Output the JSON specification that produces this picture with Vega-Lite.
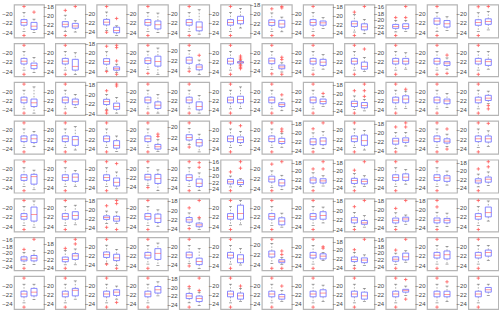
{
"$schema": "https://vega.github.io/schema/vega-lite/v6.json",
"background": "white",
"padding": {"left": 1, "top": 0.5, "right": 0, "bottom": 0},
"bounds": "flush",
"spacing": {"row": 5.8, "column": 11.3},
"data": {"values": [
{"r":1,"c":1,"g":1,"lo":-23.8,"q1":-22.5,"m":-21.9,"q3":-21.3,"hi":-19.8,"o":[-18.5,-24.7]},
{"r":1,"c":1,"g":2,"lo":-24.1,"q1":-23.4,"m":-22.7,"q3":-21.9,"hi":-21.2,"o":[-19.7]},
{"r":1,"c":2,"g":1,"lo":-23.7,"q1":-22.6,"m":-22.0,"q3":-21.4,"hi":-19.9,"o":[-18.8,-24.6]},
{"r":1,"c":2,"g":2,"lo":-23.8,"q1":-22.9,"m":-22.4,"q3":-21.8,"hi":-21.2,"o":[-17.9]},
{"r":1,"c":3,"g":1,"lo":-23.7,"q1":-22.5,"m":-21.9,"q3":-21.3,"hi":-19.7,"o":[-18.5,-24.1]},
{"r":1,"c":3,"g":2,"lo":-24.8,"q1":-24.2,"m":-23.7,"q3":-23.0,"hi":-22.7,"o":[-21.1]},
{"r":1,"c":4,"g":1,"lo":-23.8,"q1":-22.5,"m":-21.9,"q3":-21.3,"hi":-19.8,"o":[-18.5,-24.7]},
{"r":1,"c":4,"g":2,"lo":-24.1,"q1":-23.3,"m":-22.4,"q3":-21.6,"hi":-19.9,"o":[]},
{"r":1,"c":5,"g":1,"lo":-23.8,"q1":-22.5,"m":-21.9,"q3":-21.3,"hi":-19.8,"o":[-18.5,-24.7]},
{"r":1,"c":5,"g":2,"lo":-24.4,"q1":-23.7,"m":-22.9,"q3":-21.8,"hi":-19.2,"o":[]},
{"r":1,"c":6,"g":1,"lo":-23.8,"q1":-22.5,"m":-21.9,"q3":-21.3,"hi":-19.8,"o":[-18.5,-24.7]},
{"r":1,"c":6,"g":2,"lo":-23.1,"q1":-22.2,"m":-21.5,"q3":-20.6,"hi":-18.9,"o":[]},
{"r":1,"c":7,"g":1,"lo":-23.8,"q1":-22.5,"m":-21.9,"q3":-21.3,"hi":-19.8,"o":[-18.9,-24.7]},
{"r":1,"c":7,"g":2,"lo":-23.9,"q1":-22.9,"m":-22.2,"q3":-21.4,"hi":-20.7,"o":[-18.4,-18.7]},
{"r":1,"c":8,"g":1,"lo":-23.8,"q1":-22.5,"m":-21.9,"q3":-21.3,"hi":-19.8,"o":[-18.5,-24.7]},
{"r":1,"c":8,"g":2,"lo":-23.2,"q1":-22.5,"m":-22.0,"q3":-21.6,"hi":-20.9,"o":[]},
{"r":1,"c":9,"g":1,"lo":-23.8,"q1":-22.5,"m":-21.9,"q3":-21.3,"hi":-19.8,"o":[-19.2,-24.6]},
{"r":1,"c":9,"g":2,"lo":-24.2,"q1":-23.3,"m":-22.6,"q3":-21.9,"hi":-20.9,"o":[-17.9]},
{"r":1,"c":10,"g":1,"lo":-23.8,"q1":-22.7,"m":-22.1,"q3":-21.5,"hi":-20.3,"o":[-19.4,-24.9]},
{"r":1,"c":10,"g":2,"lo":-23.7,"q1":-22.8,"m":-22.1,"q3":-21.3,"hi":-20.3,"o":[-19.4,-16.0]},
{"r":1,"c":11,"g":1,"lo":-23.8,"q1":-22.3,"m":-21.6,"q3":-21.0,"hi":-19.8,"o":[-18.5,-24.7]},
{"r":1,"c":11,"g":2,"lo":-23.6,"q1":-22.9,"m":-22.2,"q3":-21.5,"hi":-20.7,"o":[]},
{"r":1,"c":12,"g":1,"lo":-23.8,"q1":-22.5,"m":-21.9,"q3":-21.3,"hi":-19.8,"o":[-18.5,-24.7]},
{"r":1,"c":12,"g":2,"lo":-23.5,"q1":-22.3,"m":-21.7,"q3":-21.1,"hi":-19.5,"o":[-18.45]},

{"r":2,"c":1,"g":1,"lo":-23.8,"q1":-22.5,"m":-21.9,"q3":-21.3,"hi":-19.8,"o":[-18.5,-24.7]},
{"r":2,"c":1,"g":2,"lo":-24.3,"q1":-23.5,"m":-22.8,"q3":-22.3,"hi":-21.1,"o":[]},
{"r":2,"c":2,"g":1,"lo":-23.8,"q1":-22.5,"m":-21.9,"q3":-21.3,"hi":-19.8,"o":[-18.5,-24.7]},
{"r":2,"c":2,"g":2,"lo":-24.7,"q1":-23.8,"m":-23.0,"q3":-21.5,"hi":-20.1,"o":[]},
{"r":2,"c":3,"g":1,"lo":-23.8,"q1":-22.5,"m":-21.9,"q3":-21.3,"hi":-19.8,"o":[-18.6,-24.1]},
{"r":2,"c":3,"g":2,"lo":-24.3,"q1":-23.8,"m":-23.5,"q3":-23.1,"hi":-22.5,"o":[-18.4,-18.9,-21.8,-24.7]},
{"r":2,"c":4,"g":1,"lo":-23.8,"q1":-22.5,"m":-21.9,"q3":-21.3,"hi":-19.8,"o":[-18.5,-24.7]},
{"r":2,"c":4,"g":2,"lo":-24.9,"q1":-23.1,"m":-22.1,"q3":-20.9,"hi":-19.1,"o":[]},
{"r":2,"c":5,"g":1,"lo":-23.7,"q1":-22.6,"m":-21.95,"q3":-21.4,"hi":-20.0,"o":[-19.0,-24.2]},
{"r":2,"c":5,"g":2,"lo":-24.8,"q1":-23.9,"m":-23.35,"q3":-22.9,"hi":-21.95,"o":[-21.0]},
{"r":2,"c":6,"g":1,"lo":-23.8,"q1":-22.5,"m":-21.9,"q3":-21.3,"hi":-19.8,"o":[-18.5,-24.7]},
{"r":2,"c":6,"g":2,"lo":-22.5,"q1":-22.3,"m":-22.1,"q3":-22.0,"hi":-21.8,"o":[-20.8,-21.2,-21.5,-22.7,-22.9,-23.2,-23.5]},
{"r":2,"c":7,"g":1,"lo":-23.8,"q1":-22.5,"m":-21.9,"q3":-21.3,"hi":-19.8,"o":[-18.5,-24.7]},
{"r":2,"c":7,"g":2,"lo":-24.3,"q1":-23.6,"m":-23.2,"q3":-22.8,"hi":-22.3,"o":[-21.1,-21.6,-24.8]},
{"r":2,"c":8,"g":1,"lo":-23.8,"q1":-22.5,"m":-21.9,"q3":-21.3,"hi":-19.8,"o":[-18.5,-24.7]},
{"r":2,"c":8,"g":2,"lo":-23.6,"q1":-22.8,"m":-22.1,"q3":-21.5,"hi":-20.5,"o":[]},
{"r":2,"c":9,"g":1,"lo":-23.8,"q1":-22.5,"m":-21.9,"q3":-21.3,"hi":-19.8,"o":[-18.5,-24.7]},
{"r":2,"c":9,"g":2,"lo":-24.1,"q1":-23.6,"m":-23.0,"q3":-22.1,"hi":-21.1,"o":[-19.3]},
{"r":2,"c":10,"g":1,"lo":-23.8,"q1":-22.5,"m":-21.9,"q3":-21.3,"hi":-19.8,"o":[-18.5,-24.7]},
{"r":2,"c":10,"g":2,"lo":-23.6,"q1":-22.5,"m":-21.9,"q3":-21.3,"hi":-20.1,"o":[]},
{"r":2,"c":11,"g":1,"lo":-23.8,"q1":-22.5,"m":-21.9,"q3":-21.3,"hi":-19.8,"o":[-18.5,-24.7]},
{"r":2,"c":11,"g":2,"lo":-23.6,"q1":-22.8,"m":-22.3,"q3":-22.0,"hi":-21.2,"o":[-20.6,-24.5]},
{"r":2,"c":12,"g":1,"lo":-23.8,"q1":-22.5,"m":-21.9,"q3":-21.3,"hi":-19.8,"o":[-18.5,-24.7]},
{"r":2,"c":12,"g":2,"lo":-23.6,"q1":-22.8,"m":-22.0,"q3":-21.5,"hi":-19.8,"o":[]},

{"r":3,"c":1,"g":1,"lo":-23.8,"q1":-22.5,"m":-21.9,"q3":-21.3,"hi":-19.8,"o":[-18.5,-24.7]},
{"r":3,"c":1,"g":2,"lo":-24.7,"q1":-23.3,"m":-22.5,"q3":-21.7,"hi":-19.1,"o":[]},
{"r":3,"c":2,"g":1,"lo":-23.8,"q1":-22.5,"m":-21.9,"q3":-21.3,"hi":-19.8,"o":[-18.5,-24.7]},
{"r":3,"c":2,"g":2,"lo":-23.5,"q1":-22.9,"m":-22.3,"q3":-21.7,"hi":-20.7,"o":[]},
{"r":3,"c":3,"g":1,"lo":-23.3,"q1":-22.2,"m":-21.6,"q3":-21.1,"hi":-20.1,"o":[-19.3,-23.5,-24.0]},
{"r":3,"c":3,"g":2,"lo":-24.0,"q1":-23.2,"m":-22.6,"q3":-21.9,"hi":-20.7,"o":[-17.9,-18.3]},
{"r":3,"c":4,"g":1,"lo":-23.8,"q1":-22.5,"m":-21.9,"q3":-21.3,"hi":-19.8,"o":[-18.5,-24.7]},
{"r":3,"c":4,"g":2,"lo":-24.7,"q1":-23.7,"m":-23.0,"q3":-22.3,"hi":-20.7,"o":[]},
{"r":3,"c":5,"g":1,"lo":-23.8,"q1":-22.5,"m":-21.9,"q3":-21.3,"hi":-19.8,"o":[-18.5,-24.7]},
{"r":3,"c":5,"g":2,"lo":-24.7,"q1":-24.0,"m":-23.3,"q3":-22.3,"hi":-20.9,"o":[]},
{"r":3,"c":6,"g":1,"lo":-23.8,"q1":-22.5,"m":-21.9,"q3":-21.3,"hi":-19.8,"o":[-18.5,-24.7]},
{"r":3,"c":6,"g":2,"lo":-23.7,"q1":-22.5,"m":-21.8,"q3":-21.1,"hi":-19.1,"o":[]},
{"r":3,"c":7,"g":1,"lo":-23.8,"q1":-22.5,"m":-21.9,"q3":-21.3,"hi":-19.8,"o":[-18.5,-24.7]},
{"r":3,"c":7,"g":2,"lo":-24.2,"q1":-23.3,"m":-22.9,"q3":-22.5,"hi":-21.7,"o":[-20.8]},
{"r":3,"c":8,"g":1,"lo":-23.8,"q1":-22.5,"m":-21.9,"q3":-21.3,"hi":-19.8,"o":[-18.5,-24.7]},
{"r":3,"c":8,"g":2,"lo":-23.3,"q1":-22.7,"m":-22.2,"q3":-21.7,"hi":-21.1,"o":[-20.5]},
{"r":3,"c":9,"g":1,"lo":-23.7,"q1":-23.0,"m":-22.3,"q3":-21.8,"hi":-20.6,"o":[-19.4,-24.5]},
{"r":3,"c":9,"g":2,"lo":-24.0,"q1":-23.3,"m":-22.8,"q3":-22.1,"hi":-21.4,"o":[-17.9,-19.4,-20.7]},
{"r":3,"c":10,"g":1,"lo":-23.8,"q1":-22.5,"m":-21.9,"q3":-21.3,"hi":-19.8,"o":[-18.5,-24.7]},
{"r":3,"c":10,"g":2,"lo":-23.7,"q1":-22.5,"m":-21.7,"q3":-21.0,"hi":-20.0,"o":[-19.6]},
{"r":3,"c":11,"g":1,"lo":-23.8,"q1":-22.5,"m":-21.9,"q3":-21.3,"hi":-19.8,"o":[-18.5,-24.7]},
{"r":3,"c":11,"g":2,"lo":-23.5,"q1":-22.7,"m":-22.1,"q3":-21.7,"hi":-20.5,"o":[]},
{"r":3,"c":12,"g":1,"lo":-23.8,"q1":-22.5,"m":-21.9,"q3":-21.3,"hi":-19.8,"o":[-18.5,-24.7]},
{"r":3,"c":12,"g":2,"lo":-22.7,"q1":-22.0,"m":-21.5,"q3":-20.9,"hi":-20.0,"o":[-23.1,-23.8]},

{"r":4,"c":1,"g":1,"lo":-23.8,"q1":-22.5,"m":-21.9,"q3":-21.3,"hi":-19.8,"o":[-18.5,-24.7]},
{"r":4,"c":1,"g":2,"lo":-23.6,"q1":-22.7,"m":-21.9,"q3":-21.1,"hi":-20.3,"o":[]},
{"r":4,"c":2,"g":1,"lo":-23.8,"q1":-22.5,"m":-21.9,"q3":-21.3,"hi":-19.8,"o":[-18.5,-24.7]},
{"r":4,"c":2,"g":2,"lo":-24.3,"q1":-23.3,"m":-22.1,"q3":-21.4,"hi":-19.3,"o":[]},
{"r":4,"c":3,"g":1,"lo":-23.8,"q1":-22.5,"m":-21.9,"q3":-21.3,"hi":-19.8,"o":[-18.5,-24.7]},
{"r":4,"c":3,"g":2,"lo":-24.6,"q1":-23.9,"m":-23.3,"q3":-22.3,"hi":-21.3,"o":[]},
{"r":4,"c":4,"g":1,"lo":-23.8,"q1":-22.5,"m":-21.9,"q3":-21.3,"hi":-19.8,"o":[-18.5,-24.7]},
{"r":4,"c":4,"g":2,"lo":-24.6,"q1":-24.1,"m":-23.6,"q3":-23.1,"hi":-22.1,"o":[-20.9,-21.4]},
{"r":4,"c":5,"g":1,"lo":-23.3,"q1":-22.5,"m":-22.0,"q3":-21.5,"hi":-20.3,"o":[-19.3,-23.8]},
{"r":4,"c":5,"g":2,"lo":-24.7,"q1":-23.6,"m":-23.0,"q3":-22.4,"hi":-21.4,"o":[]},
{"r":4,"c":6,"g":1,"lo":-23.8,"q1":-22.5,"m":-21.9,"q3":-21.3,"hi":-19.8,"o":[-18.5,-24.7]},
{"r":4,"c":6,"g":2,"lo":-23.3,"q1":-22.7,"m":-22.1,"q3":-21.5,"hi":-20.3,"o":[-19.1]},
{"r":4,"c":7,"g":1,"lo":-23.8,"q1":-22.5,"m":-21.9,"q3":-21.3,"hi":-19.8,"o":[-18.5,-24.7]},
{"r":4,"c":7,"g":2,"lo":-23.7,"q1":-22.9,"m":-22.5,"q3":-21.8,"hi":-20.7,"o":[-19.8,-20.3]},
{"r":4,"c":8,"g":1,"lo":-23.6,"q1":-22.7,"m":-22.1,"q3":-21.4,"hi":-20.1,"o":[-19.2,-24.3]},
{"r":4,"c":8,"g":2,"lo":-23.6,"q1":-22.7,"m":-21.9,"q3":-21.2,"hi":-19.8,"o":[-17.9]},
{"r":4,"c":9,"g":1,"lo":-23.8,"q1":-22.5,"m":-21.9,"q3":-21.3,"hi":-19.8,"o":[-18.5,-24.7]},
{"r":4,"c":9,"g":2,"lo":-24.3,"q1":-23.3,"m":-22.3,"q3":-21.1,"hi":-20.1,"o":[]},
{"r":4,"c":10,"g":1,"lo":-23.5,"q1":-22.6,"m":-21.9,"q3":-21.3,"hi":-20.0,"o":[-18.8,-24.3]},
{"r":4,"c":10,"g":2,"lo":-23.0,"q1":-22.2,"m":-21.7,"q3":-21.2,"hi":-20.0,"o":[-17.9,-18.8]},
{"r":4,"c":11,"g":1,"lo":-23.8,"q1":-22.5,"m":-21.9,"q3":-21.3,"hi":-19.8,"o":[-18.5,-24.7]},
{"r":4,"c":11,"g":2,"lo":-23.6,"q1":-22.8,"m":-22.4,"q3":-21.9,"hi":-20.9,"o":[-19.8,-24.1]},
{"r":4,"c":12,"g":1,"lo":-23.8,"q1":-22.5,"m":-21.9,"q3":-21.3,"hi":-19.8,"o":[-18.5,-24.7]},
{"r":4,"c":12,"g":2,"lo":-23.5,"q1":-22.6,"m":-21.9,"q3":-21.3,"hi":-20.2,"o":[-18.6]},

{"r":5,"c":1,"g":1,"lo":-23.8,"q1":-22.5,"m":-21.9,"q3":-21.3,"hi":-19.8,"o":[-18.5,-24.7]},
{"r":5,"c":1,"g":2,"lo":-24.5,"q1":-23.3,"m":-21.7,"q3":-21.2,"hi":-20.3,"o":[]},
{"r":5,"c":2,"g":1,"lo":-23.8,"q1":-22.5,"m":-21.9,"q3":-21.3,"hi":-19.8,"o":[-18.5,-24.7]},
{"r":5,"c":2,"g":2,"lo":-23.8,"q1":-22.7,"m":-21.8,"q3":-21.1,"hi":-20.4,"o":[]},
{"r":5,"c":3,"g":1,"lo":-23.8,"q1":-22.5,"m":-21.9,"q3":-21.3,"hi":-19.8,"o":[-18.5,-24.7]},
{"r":5,"c":3,"g":2,"lo":-24.3,"q1":-23.7,"m":-22.9,"q3":-22.0,"hi":-20.7,"o":[-18.9]},
{"r":5,"c":4,"g":1,"lo":-23.8,"q1":-22.5,"m":-21.9,"q3":-21.3,"hi":-19.8,"o":[-18.5,-24.2]},
{"r":5,"c":4,"g":2,"lo":-24.9,"q1":-23.3,"m":-22.2,"q3":-21.3,"hi":-20.3,"o":[]},
{"r":5,"c":5,"g":1,"lo":-23.8,"q1":-22.5,"m":-21.9,"q3":-21.3,"hi":-19.8,"o":[-18.5,-24.7]},
{"r":5,"c":5,"g":2,"lo":-24.7,"q1":-23.8,"m":-23.1,"q3":-22.2,"hi":-20.9,"o":[-18.7,-19.7]},
{"r":5,"c":6,"g":1,"lo":-23.4,"q1":-22.5,"m":-21.9,"q3":-21.2,"hi":-20.2,"o":[-19.0,-24.5]},
{"r":5,"c":6,"g":2,"lo":-23.3,"q1":-22.7,"m":-22.1,"q3":-21.4,"hi":-21.0,"o":[-16.0,-17.9]},
{"r":5,"c":7,"g":1,"lo":-23.8,"q1":-22.7,"m":-22.1,"q3":-21.5,"hi":-20.4,"o":[-19.0,-24.5]},
{"r":5,"c":7,"g":2,"lo":-24.3,"q1":-23.5,"m":-22.9,"q3":-22.2,"hi":-21.3,"o":[-18.5]},
{"r":5,"c":8,"g":1,"lo":-23.8,"q1":-22.9,"m":-22.2,"q3":-21.7,"hi":-20.5,"o":[-19.6,-24.7]},
{"r":5,"c":8,"g":2,"lo":-23.6,"q1":-22.9,"m":-22.4,"q3":-21.9,"hi":-21.2,"o":[-17.9,-19.6]},
{"r":5,"c":9,"g":1,"lo":-23.8,"q1":-23.0,"m":-22.3,"q3":-21.8,"hi":-20.7,"o":[-19.9,-24.7]},
{"r":5,"c":9,"g":2,"lo":-23.7,"q1":-23.1,"m":-22.5,"q3":-22.0,"hi":-21.2,"o":[-17.9]},
{"r":5,"c":10,"g":1,"lo":-23.8,"q1":-22.5,"m":-21.9,"q3":-21.3,"hi":-19.8,"o":[-18.5,-24.7]},
{"r":5,"c":10,"g":2,"lo":-23.3,"q1":-22.5,"m":-21.8,"q3":-21.1,"hi":-20.2,"o":[]},
{"r":5,"c":11,"g":1,"lo":-23.8,"q1":-22.5,"m":-21.9,"q3":-21.3,"hi":-19.8,"o":[-18.5,-24.7]},
{"r":5,"c":11,"g":2,"lo":-23.5,"q1":-22.7,"m":-22.0,"q3":-21.5,"hi":-20.5,"o":[]},
{"r":5,"c":12,"g":1,"lo":-23.8,"q1":-22.9,"m":-22.4,"q3":-21.9,"hi":-20.8,"o":[-19.6,-24.7]},
{"r":5,"c":12,"g":2,"lo":-23.5,"q1":-22.7,"m":-22.0,"q3":-21.5,"hi":-20.3,"o":[-17.9,-19.1]},

{"r":6,"c":1,"g":1,"lo":-23.8,"q1":-22.5,"m":-21.9,"q3":-21.3,"hi":-19.8,"o":[-18.5,-24.7]},
{"r":6,"c":1,"g":2,"lo":-24.2,"q1":-22.9,"m":-21.5,"q3":-19.9,"hi":-18.6,"o":[]},
{"r":6,"c":2,"g":1,"lo":-23.8,"q1":-22.5,"m":-21.9,"q3":-21.3,"hi":-19.8,"o":[-18.5,-24.7]},
{"r":6,"c":2,"g":2,"lo":-23.7,"q1":-22.5,"m":-21.7,"q3":-20.9,"hi":-19.5,"o":[]},
{"r":6,"c":3,"g":1,"lo":-23.1,"q1":-22.2,"m":-21.8,"q3":-21.4,"hi":-20.3,"o":[-19.1,-24.0]},
{"r":6,"c":3,"g":2,"lo":-23.1,"q1":-22.6,"m":-22.1,"q3":-21.5,"hi":-20.5,"o":[-17.9,-18.6,-24.5]},
{"r":6,"c":4,"g":1,"lo":-23.8,"q1":-22.5,"m":-21.9,"q3":-21.3,"hi":-19.8,"o":[-18.5,-24.7]},
{"r":6,"c":4,"g":2,"lo":-24.0,"q1":-23.2,"m":-22.3,"q3":-21.4,"hi":-20.5,"o":[]},
{"r":6,"c":5,"g":1,"lo":-23.3,"q1":-22.6,"m":-22.1,"q3":-21.6,"hi":-20.6,"o":[-19.5,-24.0]},
{"r":6,"c":5,"g":2,"lo":-24.2,"q1":-23.6,"m":-23.2,"q3":-22.8,"hi":-21.9,"o":[-17.9,-21.6]},
{"r":6,"c":6,"g":1,"lo":-23.8,"q1":-22.5,"m":-21.9,"q3":-21.3,"hi":-19.8,"o":[-18.5,-24.7]},
{"r":6,"c":6,"g":2,"lo":-23.7,"q1":-22.5,"m":-21.3,"q3":-19.5,"hi":-18.5,"o":[]},
{"r":6,"c":7,"g":1,"lo":-23.8,"q1":-22.5,"m":-21.9,"q3":-21.3,"hi":-19.8,"o":[-18.5,-24.7]},
{"r":6,"c":7,"g":2,"lo":-24.2,"q1":-23.7,"m":-22.9,"q3":-22.2,"hi":-21.2,"o":[]},
{"r":6,"c":8,"g":1,"lo":-23.8,"q1":-22.5,"m":-21.9,"q3":-21.3,"hi":-19.8,"o":[-18.5,-24.7]},
{"r":6,"c":8,"g":2,"lo":-23.3,"q1":-22.5,"m":-21.7,"q3":-20.9,"hi":-19.9,"o":[]},
{"r":6,"c":9,"g":1,"lo":-23.4,"q1":-22.6,"m":-22.0,"q3":-21.5,"hi":-20.4,"o":[-19.2,-24.0]},
{"r":6,"c":9,"g":2,"lo":-23.5,"q1":-22.9,"m":-22.6,"q3":-22.1,"hi":-21.1,"o":[-17.9]},
{"r":6,"c":10,"g":1,"lo":-23.8,"q1":-23.0,"m":-22.4,"q3":-21.9,"hi":-20.7,"o":[-19.7,-24.5]},
{"r":6,"c":10,"g":2,"lo":-23.3,"q1":-22.6,"m":-22.1,"q3":-21.7,"hi":-21.2,"o":[-17.9]},
{"r":6,"c":11,"g":1,"lo":-23.8,"q1":-23.0,"m":-22.4,"q3":-21.9,"hi":-20.6,"o":[-17.95,-19.4,-24.5]},
{"r":6,"c":11,"g":2,"lo":-23.8,"q1":-23.0,"m":-22.4,"q3":-22.0,"hi":-20.8,"o":[]},
{"r":6,"c":12,"g":1,"lo":-23.8,"q1":-22.5,"m":-21.9,"q3":-21.3,"hi":-19.8,"o":[-18.5,-24.7]},
{"r":6,"c":12,"g":2,"lo":-22.9,"q1":-22.0,"m":-21.1,"q3":-19.9,"hi":-18.6,"o":[]},

{"r":7,"c":1,"g":1,"lo":-23.5,"q1":-22.4,"m":-21.9,"q3":-21.2,"hi":-19.9,"o":[-19.0,-24.6]},
{"r":7,"c":1,"g":2,"lo":-23.5,"q1":-22.4,"m":-21.6,"q3":-20.8,"hi":-19.3,"o":[-16.0]},
{"r":7,"c":2,"g":1,"lo":-23.4,"q1":-22.6,"m":-22.0,"q3":-21.4,"hi":-19.7,"o":[-19.15,-24.3]},
{"r":7,"c":2,"g":2,"lo":-23.4,"q1":-22.0,"m":-21.1,"q3":-20.5,"hi":-19.3,"o":[-16.8,-18.0]},
{"r":7,"c":3,"g":1,"lo":-23.8,"q1":-22.5,"m":-21.9,"q3":-21.3,"hi":-19.8,"o":[-18.5,-24.0]},
{"r":7,"c":3,"g":2,"lo":-24.3,"q1":-23.2,"m":-22.6,"q3":-21.8,"hi":-20.7,"o":[-24.9]},
{"r":7,"c":4,"g":1,"lo":-23.8,"q1":-22.5,"m":-21.9,"q3":-21.3,"hi":-19.8,"o":[-18.5,-24.7]},
{"r":7,"c":4,"g":2,"lo":-24.1,"q1":-22.8,"m":-21.5,"q3":-20.5,"hi":-19.3,"o":[]},
{"r":7,"c":5,"g":1,"lo":-23.8,"q1":-22.5,"m":-21.9,"q3":-21.3,"hi":-19.8,"o":[-18.5,-24.3]},
{"r":7,"c":5,"g":2,"lo":-24.8,"q1":-24.0,"m":-23.3,"q3":-22.6,"hi":-20.5,"o":[]},
{"r":7,"c":6,"g":1,"lo":-23.8,"q1":-22.5,"m":-21.9,"q3":-21.3,"hi":-19.8,"o":[-18.5,-24.7]},
{"r":7,"c":6,"g":2,"lo":-24.0,"q1":-23.5,"m":-22.7,"q3":-21.8,"hi":-20.5,"o":[]},
{"r":7,"c":7,"g":1,"lo":-23.8,"q1":-22.5,"m":-21.9,"q3":-21.3,"hi":-19.8,"o":[-19.0,-24.7]},
{"r":7,"c":7,"g":2,"lo":-24.0,"q1":-23.6,"m":-23.3,"q3":-23.0,"hi":-22.6,"o":[-21.3,-22.0,-24.7]},
{"r":7,"c":8,"g":1,"lo":-23.8,"q1":-22.5,"m":-21.9,"q3":-21.3,"hi":-19.8,"o":[-18.5,-24.7]},
{"r":7,"c":8,"g":2,"lo":-23.0,"q1":-22.7,"m":-22.1,"q3":-21.6,"hi":-21.3,"o":[-20.1,-20.4]},
{"r":7,"c":9,"g":1,"lo":-23.7,"q1":-22.75,"m":-22.3,"q3":-21.7,"hi":-20.6,"o":[-20.0,-24.3]},
{"r":7,"c":9,"g":2,"lo":-23.7,"q1":-23.0,"m":-22.4,"q3":-21.9,"hi":-21.2,"o":[-17.6]},
{"r":7,"c":10,"g":1,"lo":-23.4,"q1":-22.5,"m":-21.9,"q3":-21.2,"hi":-20.1,"o":[-19.2,-24.6]},
{"r":7,"c":10,"g":2,"lo":-22.8,"q1":-22.1,"m":-21.2,"q3":-20.1,"hi":-19.4,"o":[-16.0]},
{"r":7,"c":11,"g":1,"lo":-23.8,"q1":-22.5,"m":-21.9,"q3":-21.3,"hi":-19.8,"o":[-18.5,-24.7]},
{"r":7,"c":11,"g":2,"lo":-23.8,"q1":-22.7,"m":-21.8,"q3":-21.0,"hi":-20.0,"o":[]},
{"r":7,"c":12,"g":1,"lo":-23.8,"q1":-22.5,"m":-21.9,"q3":-21.3,"hi":-19.8,"o":[-18.5,-24.7]},
{"r":7,"c":12,"g":2,"lo":-23.0,"q1":-22.1,"m":-21.3,"q3":-20.8,"hi":-19.8,"o":[]},

{"r":8,"c":1,"g":1,"lo":-23.8,"q1":-22.5,"m":-21.9,"q3":-21.3,"hi":-19.8,"o":[-18.5,-24.7]},
{"r":8,"c":1,"g":2,"lo":-23.1,"q1":-22.3,"m":-21.5,"q3":-20.7,"hi":-19.8,"o":[]},
{"r":8,"c":2,"g":1,"lo":-23.8,"q1":-22.5,"m":-21.9,"q3":-21.3,"hi":-19.8,"o":[-18.5,-24.7]},
{"r":8,"c":2,"g":2,"lo":-23.0,"q1":-22.3,"m":-21.1,"q3":-20.7,"hi":-19.1,"o":[]},
{"r":8,"c":3,"g":1,"lo":-23.8,"q1":-22.5,"m":-21.9,"q3":-21.3,"hi":-19.8,"o":[-18.5,-24.7]},
{"r":8,"c":3,"g":2,"lo":-23.0,"q1":-22.2,"m":-21.5,"q3":-21.0,"hi":-20.2,"o":[-23.7]},
{"r":8,"c":4,"g":1,"lo":-23.8,"q1":-22.5,"m":-21.9,"q3":-21.3,"hi":-19.8,"o":[-18.5,-24.7]},
{"r":8,"c":4,"g":2,"lo":-22.3,"q1":-21.7,"m":-21.0,"q3":-20.3,"hi":-19.3,"o":[]},
{"r":8,"c":5,"g":1,"lo":-23.7,"q1":-22.7,"m":-22.1,"q3":-21.5,"hi":-20.4,"o":[-19.9,-24.7]},
{"r":8,"c":5,"g":2,"lo":-24.3,"q1":-23.4,"m":-22.7,"q3":-22.1,"hi":-21.2,"o":[-17.9,-20.8]},
{"r":8,"c":6,"g":1,"lo":-23.8,"q1":-22.5,"m":-21.9,"q3":-21.3,"hi":-19.8,"o":[-18.5,-24.7]},
{"r":8,"c":6,"g":2,"lo":-23.5,"q1":-23.0,"m":-22.3,"q3":-21.7,"hi":-20.7,"o":[-20.2]},
{"r":8,"c":7,"g":1,"lo":-23.8,"q1":-22.5,"m":-21.9,"q3":-21.3,"hi":-19.8,"o":[-18.5,-24.7]},
{"r":8,"c":7,"g":2,"lo":-23.5,"q1":-23.0,"m":-22.5,"q3":-22.0,"hi":-21.1,"o":[-20.2]},
{"r":8,"c":8,"g":1,"lo":-23.8,"q1":-22.5,"m":-21.9,"q3":-21.3,"hi":-19.8,"o":[-18.5,-24.7]},
{"r":8,"c":8,"g":2,"lo":-23.5,"q1":-22.5,"m":-21.7,"q3":-21.0,"hi":-20.0,"o":[]},
{"r":8,"c":9,"g":1,"lo":-23.8,"q1":-22.5,"m":-21.9,"q3":-21.3,"hi":-19.8,"o":[-18.5,-24.7]},
{"r":8,"c":9,"g":2,"lo":-23.5,"q1":-23.0,"m":-22.3,"q3":-21.5,"hi":-20.7,"o":[]},
{"r":8,"c":10,"g":1,"lo":-23.8,"q1":-22.5,"m":-21.9,"q3":-21.3,"hi":-19.8,"o":[-18.5,-24.7]},
{"r":8,"c":10,"g":2,"lo":-22.2,"q1":-21.5,"m":-21.1,"q3":-20.9,"hi":-20.2,"o":[-18.8,-23.0]},
{"r":8,"c":11,"g":1,"lo":-23.8,"q1":-22.5,"m":-21.9,"q3":-21.3,"hi":-19.8,"o":[-18.5,-24.7]},
{"r":8,"c":11,"g":2,"lo":-23.5,"q1":-22.5,"m":-22.0,"q3":-21.3,"hi":-20.2,"o":[-19.3]},
{"r":8,"c":12,"g":1,"lo":-23.8,"q1":-22.5,"m":-21.9,"q3":-21.3,"hi":-19.8,"o":[-18.5,-24.7]},
{"r":8,"c":12,"g":2,"lo":-22.2,"q1":-21.5,"m":-21.0,"q3":-20.5,"hi":-19.8,"o":[]}
]},
"facet": {
  "row": {"field": "r", "type": "ordinal", "header": null},
  "column": {"field": "c", "type": "ordinal", "header": null}
},
"spec": {
  "width": 30,
  "height": 33,
  "encoding": {
    "x": {"field": "g", "type": "quantitative", "scale": {"domain": [0.5, 2.5], "nice": false, "zero": false}, "axis": null}
  },
  "layer": [
    {"mark": {"type": "rule", "color": "#555555", "strokeWidth": 0.5, "strokeDash": [1.5, 1.5]},
     "encoding": {"y": {"field": "hi", "type": "quantitative", "scale": {"zero": false, "nice": false, "padding": 2}, "axis": {"title": null}}, "y2": {"field": "q3"}}},
    {"mark": {"type": "rule", "color": "#555555", "strokeWidth": 0.5, "strokeDash": [1.5, 1.5]},
     "encoding": {"y": {"field": "q1", "type": "quantitative", "axis": {"title": null}}, "y2": {"field": "lo"}}},
    {"mark": {"type": "tick", "orient": "horizontal", "size": 3, "thickness": 0.6, "color": "#333333"},
     "encoding": {"y": {"field": "hi", "type": "quantitative", "axis": {"title": null}}}},
    {"mark": {"type": "tick", "orient": "horizontal", "size": 3, "thickness": 0.6, "color": "#333333"},
     "encoding": {"y": {"field": "lo", "type": "quantitative", "axis": {"title": null}}}},
    {"mark": {"type": "bar", "size": 6, "fill": "white", "stroke": "#7a7aff", "strokeWidth": 0.9},
     "encoding": {"y": {"field": "q1", "type": "quantitative", "axis": {"title": null}}, "y2": {"field": "q3"}}},
    {"mark": {"type": "tick", "orient": "horizontal", "size": 6, "thickness": 0.8, "color": "#ff4a4a"},
     "encoding": {"y": {"field": "m", "type": "quantitative", "axis": {"title": null}}}},
    {"transform": [{"flatten": ["o"], "as": ["ov"]}],
     "mark": {"type": "point", "shape": "M-1,0L1,0M0,-1L0,1", "filled": false, "size": 12, "strokeWidth": 0.8, "color": "#ff5a5a", "opacity": 1},
     "encoding": {"y": {"field": "ov", "type": "quantitative", "axis": {"title": null}}}}
  ]
},
"resolve": {"scale": {"y": "independent"}},
"config": {
  "view": {"stroke": "#b5b5b5", "strokeWidth": 1.2},
  "axisY": {"grid": false, "ticks": false, "domain": false, "labelFontSize": 6, "labelFont": "Liberation Sans", "labelColor": "#444444", "labelPadding": 2, "tickCount": 5, "tickMinStep": 2, "labelOverlap": false, "labelFlush": false, "labelBound": false}
}
}
